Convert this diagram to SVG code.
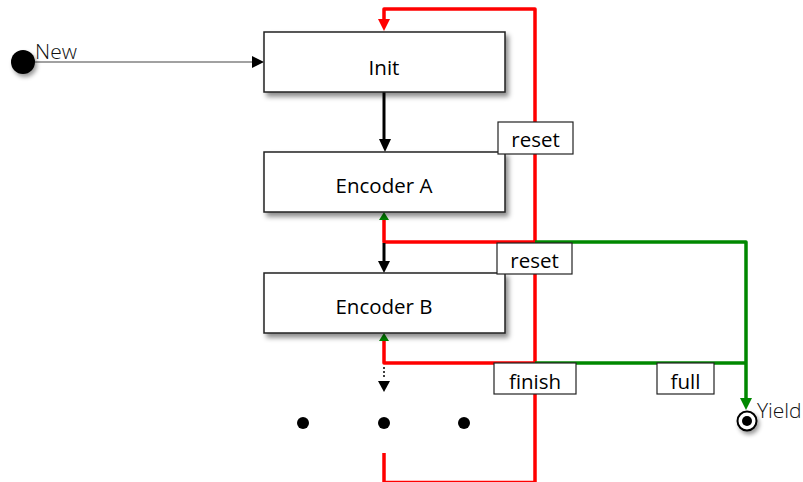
<svg xmlns="http://www.w3.org/2000/svg" width="803" height="482" viewBox="0 0 803 482">
<defs>
<filter id="sh" x="-10%" y="-10%" width="130%" height="140%">
<feDropShadow dx="3" dy="4" stdDeviation="2.5" flood-color="#000" flood-opacity="0.45"/>
</filter>
<filter id="sh2" x="-50%" y="-50%" width="200%" height="200%">
<feDropShadow dx="2" dy="3" stdDeviation="2" flood-color="#000" flood-opacity="0.4"/>
</filter>
</defs>
<style>
.box{fill:#fff;stroke:#222;stroke-width:1.5;filter:url(#sh)}
.lbl{fill:#fff;stroke:#222;stroke-width:1.2}
.t{font-family:"Open Sans","Liberation Sans",sans-serif;font-size:20.5px;fill:#000;text-anchor:middle}
.tl{font-family:"Open Sans","Liberation Sans",sans-serif;font-size:21px;fill:#111;font-weight:300}
.red{fill:none;stroke:#f00;stroke-width:3.5;stroke-linejoin:round}
.grn{fill:none;stroke:#080;stroke-width:3.5;stroke-linejoin:round}
.blk{fill:none;stroke:#000;stroke-width:3}
</style>

<g id="connectors">
<line x1="35" y1="62" x2="254" y2="62" stroke="#444" stroke-width="1.2"/>
<polygon points="252,56 264,62 252,68" fill="#000"/>
<path class="red" d="M535,482 V9 H384 V22"/>
<polygon points="378,19 390,19 384,31" fill="#f00"/>
<path class="red" d="M535,242 H384 V218"/>
<polygon points="379,220 389,220 384,212" fill="#080"/>
<path class="red" d="M535,363 H384 V339"/>
<polygon points="379,341 389,341 384,333" fill="#080"/>
<path class="red" d="M384,453 V482.5 H535"/>
<path class="grn" d="M535,242 H746 V400"/>
<path class="grn" d="M535,363 H746"/>
<polygon points="740,398 752,398 746,410" fill="#080"/>
<line class="blk" x1="384" y1="92" x2="384" y2="140"/>
<polygon points="379,139 391,139 385,152" fill="#000"/>
<line class="blk" x1="384" y1="243" x2="384" y2="262"/>
<polygon points="378,261 390,261 384,273" fill="#000"/>
<line x1="384" y1="367" x2="384" y2="379" stroke="#000" stroke-width="1.5" stroke-dasharray="2,2"/>
<polygon points="378,381 390,381 384,392" fill="#000"/>
</g>

<g id="new">
<circle cx="23" cy="62" r="12" fill="#000" filter="url(#sh2)"/>
<text class="tl" x="35" y="59">New</text>
</g>

<g id="init">
<rect class="box" x="264" y="32" width="241" height="60"/>
<text class="t" x="384" y="75">Init</text>
</g>

<g id="encoderA">
<rect class="box" x="264" y="152" width="241" height="60"/>
<text class="t" x="384" y="193">Encoder A</text>
</g>

<g id="encoderB">
<rect class="box" x="264" y="273" width="241" height="60"/>
<text class="t" x="384" y="314">Encoder B</text>
</g>

<g id="label-reset1">
<rect class="lbl" x="498" y="122" width="75" height="32"/>
<text class="t" x="535.5" y="147">reset</text>
</g>
<g id="label-reset2">
<rect class="lbl" x="497" y="243" width="75" height="31"/>
<text class="t" x="534.5" y="268">reset</text>
</g>
<g id="label-finish">
<rect class="lbl" x="494" y="363" width="82" height="31"/>
<text class="t" x="535" y="389">finish</text>
</g>
<g id="label-full">
<rect class="lbl" x="657" y="363" width="57" height="31"/>
<text class="t" x="685.5" y="389">full</text>
</g>

<g id="dots">
<circle cx="303" cy="423" r="6" fill="#000"/>
<circle cx="384" cy="423" r="6" fill="#000"/>
<circle cx="464" cy="423" r="6" fill="#000"/>
</g>

<g id="yield">
<circle cx="747" cy="421" r="9.5" fill="#fff" stroke="#000" stroke-width="2" filter="url(#sh2)"/>
<circle cx="747" cy="421" r="5" fill="#000"/>
<text class="tl" x="757" y="418">Yield</text>
</g>
</svg>
